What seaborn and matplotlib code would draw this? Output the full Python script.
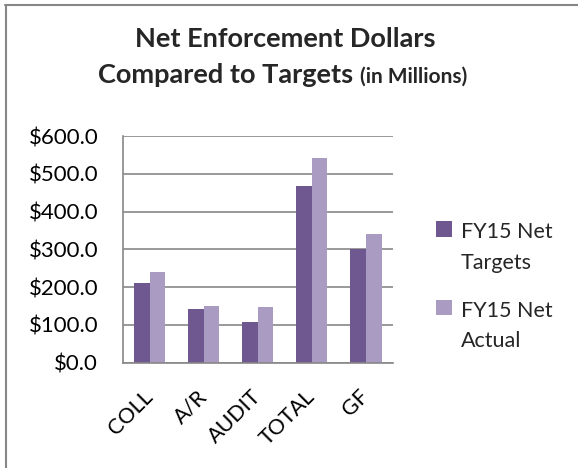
import matplotlib
matplotlib.use("Agg")
import matplotlib.pyplot as plt
import matplotlib.transforms as mtransforms
import seaborn as sns
import pandas as pd
from matplotlib.lines import Line2D
from matplotlib.patches import Patch, Rectangle
from matplotlib.legend_handler import HandlerPatch

categories = ["COLL", "A/R", "AUDIT", "TOTAL", "GF"]
targets = [212, 143, 108, 468, 301]
actual = [241, 150, 147, 541, 341]
series_names = ["FY15 Net\nTargets", "FY15 Net\nActual"]
yticks = [0, 100, 200, 300, 400, 500, 600]

colors = ["#6F5790", "#A99BC1"]
grid_c = "#878787"

df = pd.DataFrame({
    "cat": categories * 2,
    "val": targets + actual,
    "series": [series_names[0]] * len(categories) + [series_names[1]] * len(categories),
})

sns.set_theme(style="white")
plt.rcParams["font.family"] = ["Lato", "DejaVu Sans"]

FS = 15.5
H = 468

fig = plt.figure(figsize=(5.78, 4.68), dpi=100)
ax = fig.add_axes([0.212, 0.225, 0.468, 0.484])

sns.barplot(data=df, x="cat", y="val", hue="series", order=categories,
            hue_order=series_names, palette=colors, width=0.575, gap=0,
            saturation=1, ax=ax, legend=False, edgecolor="none", linewidth=0)

ax.set_ylim(0, 600)
ax.set_xlim(-0.5, len(categories) - 0.5)
ax.set_yticks(yticks)
ax.set_yticklabels([f"${v:.1f}" for v in yticks], fontsize=16, color="black")
ax.set_xticks(range(len(categories)))
ax.set_xticklabels(categories, rotation=45, ha="right", va="center",
                   rotation_mode="anchor", fontsize=FS, color="black")
offset = mtransforms.ScaledTranslation(12 / 100, 0, fig.dpi_scale_trans)
for lab in ax.get_xticklabels():
    lab.set_transform(lab.get_transform() + offset)
ax.set_xticks([i - 0.5 for i in range(len(categories) + 1)], minor=True)
ax.tick_params(axis="x", which="major", length=0, pad=22)
ax.tick_params(axis="x", which="minor", length=5, width=1.1, color=grid_c, direction="out")
ax.tick_params(axis="y", which="major", length=6.5, width=1.1, color=grid_c, direction="out", pad=11)
ax.set_xlabel("")
ax.set_ylabel("")
ax.yaxis.grid(True, color=grid_c, linewidth=1.2)
ax.set_axisbelow(True)
for s in ["top", "right"]:
    ax.spines[s].set_visible(False)
for s in ["left", "bottom"]:
    ax.spines[s].set_color(grid_c)
    ax.spines[s].set_linewidth(1.2)

# title
W = fig.get_figwidth() * fig.dpi
fig.text(285.5 / W, 1 - 47 / H, "Net Enforcement Dollars", ha="center", va="baseline",
         fontsize=19.5, fontweight="bold")
t1 = fig.text(0.0, 1 - 83 / H, "Compared to Targets ", ha="left", va="baseline",
              fontsize=19.5, fontweight="bold")
t2 = fig.text(0.0, 1 - 83 / H, "(in Millions)", ha="left", va="baseline",
              fontsize=15, fontweight="bold")
fig.canvas.draw()
r = fig.canvas.get_renderer()
w1 = t1.get_window_extent(r).width
w2 = t2.get_window_extent(r).width
x0 = 282.5 - (w1 + w2) / 2
t1.set_x(x0 / W)
t2.set_x((x0 + w1) / W)


class TopPatch(HandlerPatch):
    def create_artists(self, legend, orig_handle, xdescent, ydescent, width,
                       height, fontsize, trans):
        p = Rectangle((-xdescent, -ydescent + 13.5), width, height,
                      facecolor=orig_handle.get_facecolor(), edgecolor="none",
                      transform=trans)
        return [p]


handles = [Patch(facecolor=c, edgecolor="none") for c in colors]
leg = fig.legend(handles, series_names, loc="upper left",
                 bbox_to_anchor=(436 / 578, 1 - 222 / H), frameon=False, fontsize=FS,
                 handlelength=0.72, handleheight=0.72, handletextpad=0.42,
                 labelspacing=1.3, borderpad=0, borderaxespad=0,
                 handler_map={Patch: TopPatch()})
for t in leg.get_texts():
    t.set_linespacing(1.66)

fig.add_artist(Line2D([0.009, 1.0], [1 - 4.5 / H, 1 - 4.5 / H],
                      transform=fig.transFigure, color=grid_c, linewidth=1.5))
fig.add_artist(Line2D([6 / 578, 6 / 578], [0, 1 - 4.5 / H],
                      transform=fig.transFigure, color=grid_c, linewidth=1.5))

fig.savefig("out.png", dpi=100, facecolor="white")
